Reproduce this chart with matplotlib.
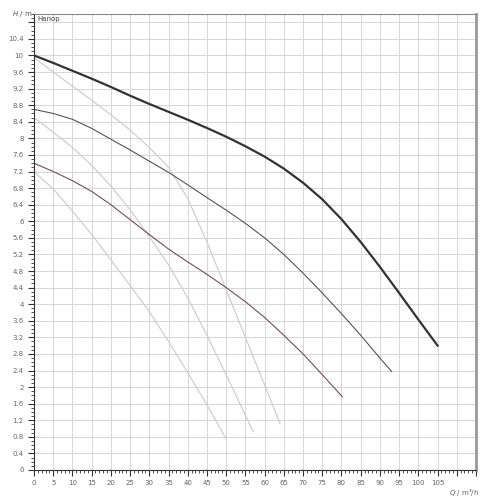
import matplotlib
matplotlib.use("Agg")
import matplotlib.pyplot as plt
from matplotlib.ticker import MultipleLocator, FuncFormatter

# pump curves, Q in m3/h, H in m
q_main = [0, 5, 10, 15, 20, 25, 30, 35, 40, 45, 50, 55, 60, 65, 70, 75, 80, 85, 90, 95, 100, 105]
h_main = [10.0, 9.82, 9.63, 9.44, 9.24, 9.03, 8.83, 8.64, 8.45, 8.25, 8.04, 7.81, 7.56, 7.27, 6.93, 6.53, 6.05, 5.5, 4.9, 4.27, 3.63, 3.0]

q_mid = [0, 5, 10, 15, 20, 25, 30, 35, 40, 45, 50, 55, 60, 65, 70, 75, 80, 85, 90, 93]
h_mid = [8.7, 8.6, 8.46, 8.24, 7.98, 7.72, 7.45, 7.18, 6.88, 6.57, 6.27, 5.95, 5.6, 5.2, 4.75, 4.27, 3.77, 3.25, 2.7, 2.38]

q_low = [0, 5, 10, 15, 20, 25, 30, 35, 40, 45, 50, 55, 60, 65, 70, 75, 80.2]
h_low = [7.4, 7.2, 6.98, 6.72, 6.4, 6.04, 5.68, 5.33, 5.02, 4.72, 4.4, 4.06, 3.68, 3.25, 2.8, 2.3, 1.77]

q_a = [0, 5, 10, 15, 20, 25, 30, 35, 40, 45, 50, 55, 60, 64]
h_a = [9.95, 9.6, 9.26, 8.92, 8.57, 8.2, 7.78, 7.3, 6.55, 5.5, 4.35, 3.2, 2.05, 1.13]

q_b = [0, 5, 10, 15, 20, 25, 30, 35, 40, 45, 50, 57]
h_b = [8.5, 8.15, 7.78, 7.35, 6.85, 6.28, 5.63, 4.95, 4.15, 3.25, 2.3, 0.93]

q_c = [0, 5, 10, 15, 20, 25, 30, 35, 40, 45, 50]
h_c = [7.2, 6.78, 6.25, 5.68, 5.07, 4.45, 3.82, 3.1, 2.35, 1.57, 0.75]

fig = plt.figure(figsize=(5, 5), dpi=100)
ax = fig.add_axes([0.068, 0.06, 0.884, 0.912])

ax.plot(q_a, h_a, color="#cfcfcf", lw=0.9)
ax.plot(q_b, h_b, color="#cfcfcf", lw=0.9)
ax.plot(q_c, h_c, color="#cfcfcf", lw=0.9)
ax.plot(q_low, h_low, color="#6e4f5f", lw=0.8)
ax.plot(q_mid, h_mid, color="#555555", lw=0.8)
ax.plot(q_main, h_main, color="#333333", lw=1.6)

ax.set_xlim(0, 115)
ax.set_ylim(0, 11)
ax.xaxis.set_major_locator(MultipleLocator(5))
ax.xaxis.set_minor_locator(MultipleLocator(1))
ax.yaxis.set_major_locator(MultipleLocator(0.4))
ax.yaxis.set_minor_locator(MultipleLocator(0.1))

def fmt_y(v, pos):
    if v > 10.5:
        return ""
    return ("%.1f" % v).rstrip("0").rstrip(".")

def fmt_x(v, pos):
    if v > 106:
        return ""
    return "%d" % round(v)

ax.yaxis.set_major_formatter(FuncFormatter(fmt_y))
ax.xaxis.set_major_formatter(FuncFormatter(fmt_x))
ax.grid(True, which="major", color="#d6d6d6", lw=0.7)
ax.set_axisbelow(True)
ax.tick_params(which="both", direction="out", labelsize=5, labelcolor="#666666", color="#333333")
ax.tick_params(which="major", length=4, width=0.8)
ax.tick_params(which="minor", length=2, width=0.6)

ax.spines["left"].set_color("#333333")
ax.spines["bottom"].set_color("#333333")
ax.spines["top"].set_color("#888888")
ax.spines["right"].set_color("#999999")
ax.spines["right"].set_linewidth(2)

ax.text(-0.5, 11, "$H$ / m", fontsize=5, color="#555555", ha="right", va="center")
ax.text(1, 10.95, "Напор", fontsize=5, color="#444444", ha="left", va="top")
ax.text(112, -0.55, "$Q$ / m³/h", fontsize=5, color="#666666", ha="center", va="center")

fig.savefig("out.png", dpi=100)
